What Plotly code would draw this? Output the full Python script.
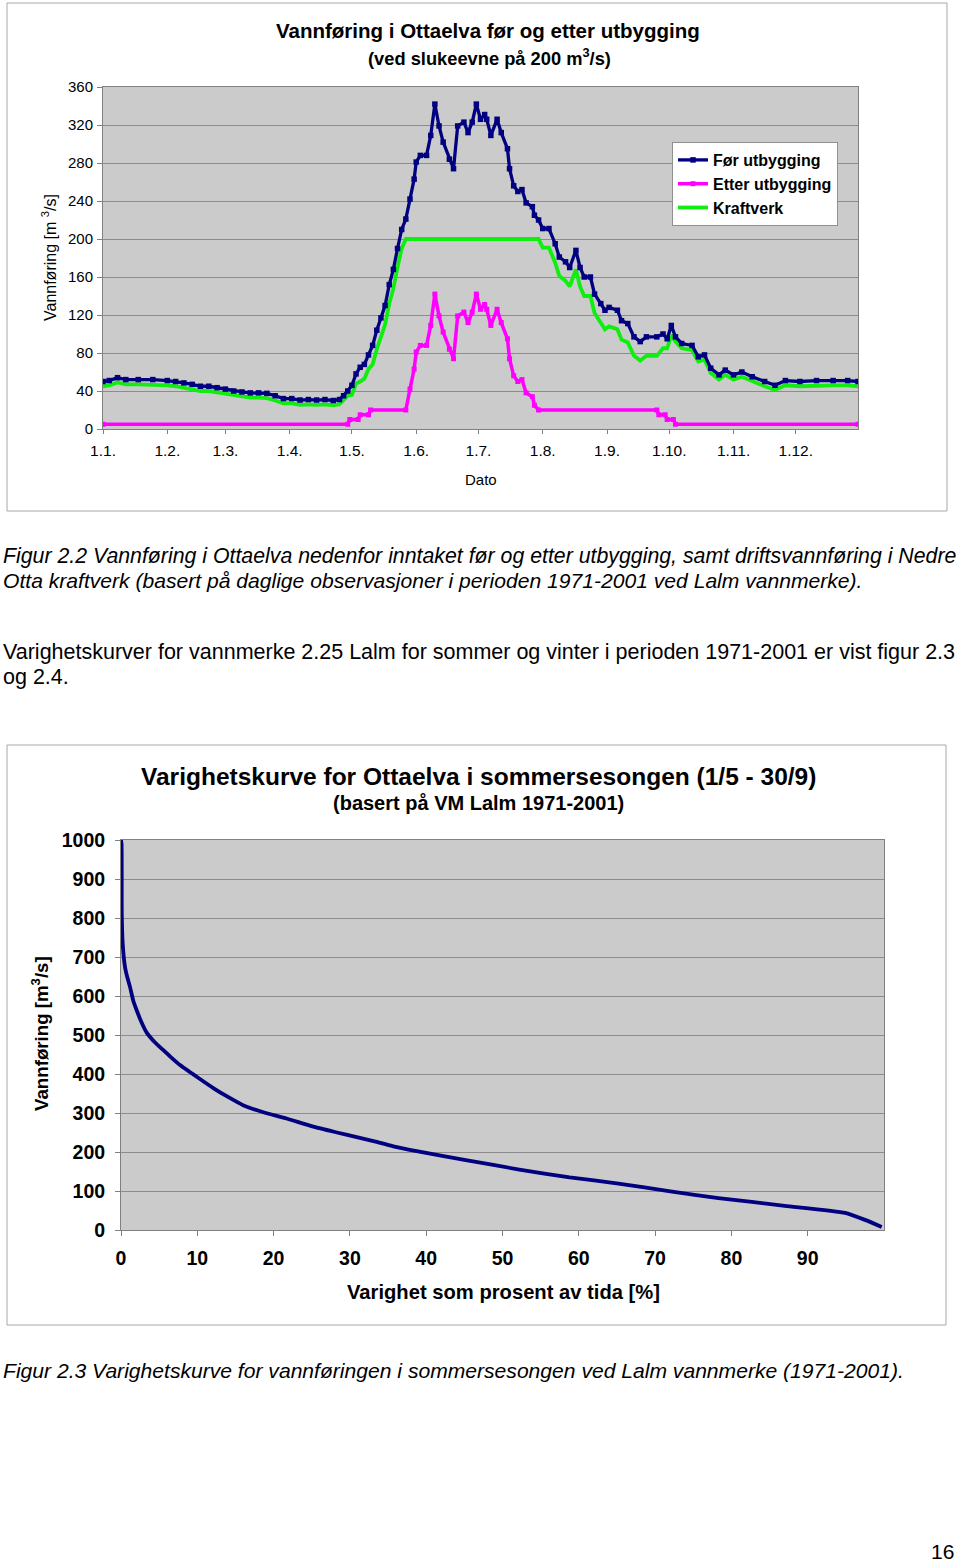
import plotly.graph_objects as go

# ---------------- data: chart 1 (day of year) ----------------
month_ticks = [1, 32, 60, 91, 121, 152, 182, 213, 244, 274, 305, 335]
month_labels = ["1.1.", "1.2.", "1.3.", "1.4.", "1.5.", "1.6.", "1.7.", "1.8.", "1.9.", "1.10.", "1.11.", "1.12."]

foer_days = [1, 4, 8, 12, 18, 25, 32, 36, 40, 44, 48, 52, 56, 60, 64, 68, 72, 76, 80, 84, 88, 92, 96, 100,
             104, 108, 112, 115, 117, 119, 121, 123, 125, 127, 129, 131, 133, 135, 137, 139, 141, 143, 145,
             147, 149, 151, 152, 154, 157, 159, 161, 163, 165, 168, 170, 172, 175, 177, 179, 181, 183, 185,
             186, 188, 191, 193, 196, 197, 199, 201, 203, 205, 208, 209, 211, 213, 216, 219, 221, 224, 226,
             229, 231, 233, 236, 238, 241, 243, 245, 249, 251, 254, 257, 260, 263, 268, 271, 273, 275, 277,
             280, 285, 288, 291, 294, 298, 301, 305, 309, 314, 320, 325, 330, 337, 345, 353, 360, 365]
foer_vals = [50, 51, 54, 52, 52, 52, 51, 50, 48.5, 47, 45, 45, 43.5, 42, 40, 39, 38, 38, 37.5, 35, 32, 32, 30.5, 31,
             30.5, 31, 30, 31, 35, 40, 46, 58, 65, 68, 78, 88, 104, 117, 130, 152, 168, 190, 210,
             221, 242, 263, 281, 288, 288, 309, 342, 319, 302, 284, 274, 319, 323, 312, 323, 342, 326, 331,
             326, 309, 326, 312, 295, 274, 256, 250, 252, 238, 234, 225, 220, 211, 211, 195, 181, 176, 170,
             188, 170, 160, 160, 142, 132, 125, 128, 125, 114, 111, 97, 92, 97, 97, 100, 95, 109, 97,
             90, 88, 76, 78, 64, 57, 62, 57, 60, 55, 50, 46, 51, 50, 51, 51, 51, 50]

etter_days = [1, 119, 120, 124, 125, 129, 130, 147, 149, 151, 152, 154, 157, 159, 161, 163, 165, 168, 170,
              172, 175, 177, 179, 181, 183, 185, 186, 188, 191, 193, 196, 197, 199, 201, 203, 205, 208, 209,
              211, 268, 269, 272, 273, 276, 277, 365]
etter_vals = [5, 5, 10, 10, 15, 15, 20, 20, 42, 63, 81, 88, 88, 109, 142, 119, 102, 84, 74,
              119, 123, 112, 123, 142, 126, 131, 126, 109, 126, 112, 95, 74, 56, 50, 52, 38, 34, 25,
              20, 20, 15, 15, 10, 10, 5, 5]

kraft_days = [1, 4, 8, 12, 18, 25, 32, 36, 40, 44, 48, 52, 56, 60, 64, 68, 72, 76, 80, 84, 88, 92, 96, 100,
              104, 108, 112, 115, 117, 119, 121, 123, 125, 127, 129, 131, 133, 135, 137, 139, 141, 143, 145,
              147, 211, 213, 216, 219, 221, 224, 226, 229, 231, 233, 236, 238, 241, 243, 245, 249, 251, 254,
              257, 260, 263, 268, 271, 273, 275, 277, 280, 285, 288, 291, 294, 298, 301, 305, 309, 314, 320,
              325, 330, 337, 345, 353, 360, 365]
kraft_vals = [45, 46, 49, 47, 47, 47, 46, 45, 43.5, 42, 40, 40, 38.5, 37, 35, 34, 33, 33, 32.5, 30, 27, 27, 25.5, 26,
              25.5, 26, 25, 26, 30, 35, 36, 48, 50, 53, 63, 68, 84, 97, 110, 132, 148, 170, 190,
              200, 200, 191, 191, 175, 161, 156, 150, 168, 150, 140, 140, 122, 112, 105, 108, 105, 94, 91,
              77, 72, 77, 77, 85, 85, 99, 92, 85, 83, 71, 73, 59, 52, 57, 52, 55, 50, 45,
              41, 46, 45, 46, 46, 46, 45]

# ---------------- data: chart 2 (duration curve) ----------------
dur_pct = [0, 0.07, 0.1, 0.22, 0.52, 0.8, 1.17, 1.62, 2.04, 2.7, 3.37, 4.4, 5.55, 6.6, 7.73, 9.92, 12.1, 13.85,
           16.0, 18.65, 21.7, 25.2, 28.3, 31.3, 33.5, 36, 38.75, 45, 52.2, 58.8, 65.2, 72, 78.3, 87, 94.9,
           97.5, 99.7]
dur_q = [1000, 990, 812, 735, 675, 650, 624, 587, 564, 532, 506, 482, 461, 442, 423, 393, 364, 343,
         320, 302, 286, 265, 250, 236, 226, 213, 202, 180, 155, 135, 119, 99, 82, 62, 44,
         26, 8]
dur_ticks = [0, 10, 20, 30, 40, 50, 60, 70, 80, 90]

# ---------------- layout helpers (pixel -> paper) ----------------
W, H = 960, 1564
def X(px):
    return px / W
def Y(py):
    return 1 - py / H

FONT = "Liberation Sans, Arial, sans-serif"
NAVY = "#000080"
MAG = "#ff00ff"
GRN = "#10ee10"
GRID = "#8c8c8c"

fig = go.Figure()

fig.add_trace(go.Scatter(x=kraft_days, y=kraft_vals, name="Kraftverk", mode="lines",
                         line=dict(color=GRN, width=3.8), legendgroup="c", xaxis="x", yaxis="y"))
fig.add_trace(go.Scatter(x=etter_days, y=etter_vals, name="Etter utbygging", mode="lines+markers",
                         line=dict(color=MAG, width=3.5), marker=dict(symbol="square", size=5, color=MAG),
                         legendgroup="b", xaxis="x", yaxis="y"))
fig.add_trace(go.Scatter(x=foer_days, y=foer_vals, name="Før utbygging", mode="lines+markers",
                         line=dict(color=NAVY, width=3.3), marker=dict(symbol="square", size=5.5, color=NAVY),
                         legendgroup="a", xaxis="x", yaxis="y"))

fig.add_trace(go.Scatter(x=dur_pct, y=dur_q, mode="lines", showlegend=False,
                         line=dict(color=NAVY, width=3.8, shape="spline", smoothing=0.5),
                         xaxis="x2", yaxis="y2"))

axis_common = dict(showline=True, mirror=True, linecolor="#808080", linewidth=1, zeroline=False,
                   ticks="outside", tickcolor="#808080", automargin=False)

fig.update_layout(
    width=W, height=H, margin=dict(l=0, r=0, t=0, b=0, pad=0, autoexpand=False),
    paper_bgcolor="white", plot_bgcolor="#cbcbcb",
    font=dict(family=FONT, color="black"),
    xaxis=dict(domain=[X(103), X(858)], anchor="y", range=[1, 365], tickvals=month_ticks,
               ticktext=month_labels, showgrid=False, ticklen=4, tickfont=dict(size=15.5),
               ticklabelstandoff=3, **axis_common),
    yaxis=dict(domain=[Y(429), Y(87)], anchor="x", range=[0, 360], dtick=40, showgrid=True,
               gridcolor=GRID, gridwidth=1, ticklen=5, tickfont=dict(size=15), ticklabelstandoff=1,
               **axis_common),
    xaxis2=dict(domain=[X(121), X(884)], anchor="y2", range=[0, 100], tickvals=dur_ticks,
                showgrid=False, ticklen=5, tickfont=dict(size=19.5, weight="bold"), ticklabelstandoff=6,
                **axis_common),
    yaxis2=dict(domain=[Y(1230), Y(840)], anchor="x2", range=[0, 1000], dtick=100, showgrid=True,
                gridcolor=GRID, gridwidth=1, ticklen=5, tickfont=dict(size=19.5, weight="bold"),
                ticklabelstandoff=6, **axis_common),
    legend=dict(x=X(672), y=Y(142), xanchor="left", yanchor="top", bgcolor="white",
                bordercolor="#909090", borderwidth=1, font=dict(size=16, weight="bold"),
                tracegroupgap=11, traceorder="reversed"),
)

shapes = [
    dict(type="rect", xref="paper", yref="paper", x0=X(7), x1=X(947), y0=Y(511), y1=Y(3),
         line=dict(color="#a8a8a8", width=1), fillcolor="rgba(0,0,0,0)"),
    dict(type="rect", xref="paper", yref="paper", x0=X(7), x1=X(946), y0=Y(1325), y1=Y(745),
         line=dict(color="#a8a8a8", width=1), fillcolor="rgba(0,0,0,0)"),
]
fig.update_layout(shapes=shapes)

def ann(text, x, y, size, xanchor="center", bold=False, textangle=0):
    fig.add_annotation(text=text, x=X(x), y=Y(y), xref="paper", yref="paper", showarrow=False,
                       xanchor=xanchor, yanchor="middle", textangle=textangle,
                       font=dict(size=size, family=FONT, color="black", weight="bold" if bold else "normal"))

# chart 1 texts
ann("Vannføring i Ottaelva før og etter utbygging", 488, 30, 20.5, bold=True)
ann("(ved slukeevne på 200 m<sup>3</sup>/s)", 490, 57, 18.3, bold=True)
ann("Vannføring [m <sup>3</sup>/s]", 49, 258, 16, textangle=-90)
ann("Dato", 481, 480, 15)

# captions
ann("<i>Figur 2.2 Vannføring i Ottaelva nedenfor inntaket før og etter utbygging, samt driftsvannføring i Nedre</i>",
    1, 556, 21.3, xanchor="left")
ann("<i>Otta kraftverk (basert på daglige observasjoner i perioden 1971-2001 ved Lalm vannmerke).</i>",
    1, 580, 21.1, xanchor="left")
ann("Varighetskurver for vannmerke 2.25 Lalm for sommer og vinter i perioden 1971-2001 er vist figur 2.3",
    1, 652, 21.5, xanchor="left")
ann("og 2.4.", 1, 677, 21.5, xanchor="left")

# chart 2 texts
ann("Varighetskurve for Ottaelva i sommersesongen (1/5 - 30/9)", 478, 776, 24.5, bold=True)
ann("(basert på VM Lalm 1971-2001)", 478, 803, 20, bold=True)
ann("Vannføring [m<sup>3</sup>/s]", 40, 1034, 18.7, bold=True, textangle=-90)
ann("Varighet som prosent av tida [%]", 503, 1292, 20.2, bold=True)

ann("<i>Figur 2.3 Varighetskurve for vannføringen i sommersesongen ved Lalm vannmerke (1971-2001).</i>",
    1, 1370, 21.1, xanchor="left")
ann("16", 956, 1551, 21, xanchor="right")

fig.write_html("out.html", config={"displayModeBar": False},
               post_script="document.body.style.margin='0px';document.body.style.padding='0px';")
